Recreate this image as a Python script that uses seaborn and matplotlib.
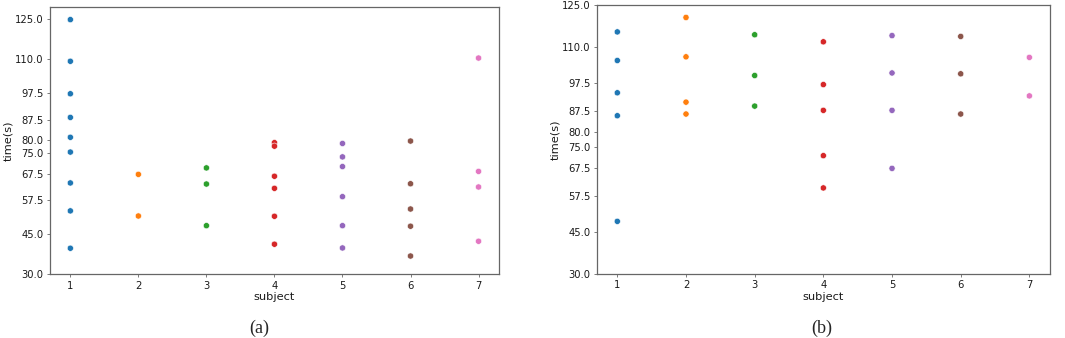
import matplotlib
matplotlib.use("Agg")
import matplotlib.pyplot as plt
import seaborn as sns
import pandas as pd

# Data
SUBJ_A = [1]*9 + [2]*2 + [3]*3 + [4]*6 + [5]*6 + [6]*5 + [7]*4
TIME_A = [124.8, 109.3, 97.2, 88.4, 81.0, 75.5, 64.0, 53.6, 39.7,
          67.2, 51.7,
          69.6, 63.6, 48.1,
          79.0, 77.7, 66.5, 62.0, 51.6, 41.2,
          78.7, 73.7, 70.1, 58.9, 48.1, 39.8,
          79.6, 63.7, 54.3, 47.9, 36.8,
          110.5, 68.3, 62.5, 42.3]

SUBJ_B = [1]*5 + [2]*4 + [3]*3 + [4]*5 + [5]*4 + [6]*3 + [7]*2
TIME_B = [115.5, 105.4, 94.0, 85.9, 48.6,
          120.6, 106.7, 90.7, 86.5,
          114.5, 100.1, 89.3,
          112.0, 96.9, 87.8, 71.8, 60.4,
          114.2, 101.0, 87.8, 67.3,
          113.9, 100.7, 86.5,
          106.5, 92.9]

Y_TICKS = [30.0, 45.0, 57.5, 67.5, 75.0, 80.0, 87.5, 97.5, 110.0, 125.0]
X_TICKS = [1, 2, 3, 4, 5, 6, 7]
CAPTIONS = ["(a)", "(b)"]

sns.set_theme(style="white")
plt.rcParams["font.family"] = ["DejaVu Sans"]

fig = plt.figure(figsize=(10.65, 3.38), dpi=100)
ax_a = fig.add_axes([0.0469, 0.1885, 0.4216, 0.790])
ax_b = fig.add_axes([0.5603, 0.1893, 0.4256, 0.7959])

panels = [(ax_a, SUBJ_A, TIME_A, (30, 129.4)), (ax_b, SUBJ_B, TIME_B, (30, 125))]
for ax, subj, t, ylim in panels:
    df = pd.DataFrame({"subject": subj, "time": t})
    sns.scatterplot(data=df, x="subject", y="time", hue="subject",
                    palette=sns.color_palette("tab10", 7), legend=False,
                    s=20, edgecolor="white", linewidth=0.4, ax=ax)
    ax.set_ylim(*ylim)
    ax.set_xlim(0.7, 7.3)
    ax.set_yticks(Y_TICKS)
    ax.set_yticklabels([f"{v:.1f}" for v in Y_TICKS])
    ax.set_xticks(X_TICKS)
    ax.tick_params(axis="both", labelsize=7.2, length=2.5, width=0.6,
                   color="#666666", pad=2, bottom=True, left=True,
                   labelcolor="#1a1a1a")
    ax.set_xlabel("subject", fontsize=8.2, labelpad=1, color="#1a1a1a")
    ax.set_ylabel("time(s)", fontsize=8.2, labelpad=1, color="#1a1a1a")
    for sp in ax.spines.values():
        sp.set_color("#666666")
        sp.set_linewidth(0.9)

fig.text(0.243, 0.03, CAPTIONS[0], ha="center", va="center",
         fontsize=13, family="Liberation Serif")
fig.text(0.7715, 0.03, CAPTIONS[1], ha="center", va="center",
         fontsize=13, family="Liberation Serif")

fig.savefig("out.png", dpi=100)
